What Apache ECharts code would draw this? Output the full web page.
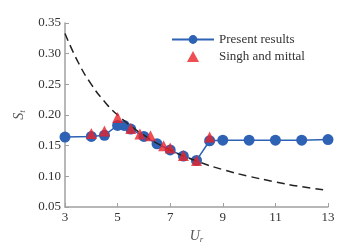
<!DOCTYPE html>
<html>
<head>
<meta charset="utf-8">
<script src="https://cdn.jsdelivr.net/npm/echarts@6/dist/echarts.min.js"></script>
<style>
  html, body { margin: 0; padding: 0; background: #fff; }
  #chart { width: 350px; height: 244px; }
</style>
</head>
<body>
<div id="chart"></div>
<script>
// Present results (blue circles)
const presentUr = [3, 4, 4.5, 5, 5.25, 5.5, 6, 6.5, 7, 7.5, 8, 8.5, 9, 10, 11, 12, 13];
const presentSt = [0.164, 0.165, 0.167, 0.183, 0.183, 0.177, 0.165, 0.153, 0.143, 0.133, 0.126, 0.158, 0.159, 0.159, 0.159, 0.159, 0.160];
// Singh and mittal (red triangles)
const singhUr = [4, 4.5, 5, 5.5, 5.85, 6.25, 6.75, 7, 7.5, 8, 8.5];
const singhSt = [0.170, 0.174, 0.196, 0.178, 0.169, 0.166, 0.150, 0.146, 0.134, 0.126, 0.164];
// dashed reference curve
const curveUr = [3, 3.5, 4, 4.5, 5, 6, 7, 8, 9, 10, 11, 12, 13];
const curveSt = [0.333, 0.286, 0.25, 0.222, 0.2, 0.167, 0.143, 0.125, 0.111, 0.1, 0.091, 0.083, 0.077];

const zip = (a, b) => a.map((v, i) => [v, b[i]]);
const font = 'Liberation Serif';
const axisGrey = '#a0a0a0';
const triPath = 'path://M0,10 L5.5,0 L11,10 Z';

const chart = echarts.init(document.getElementById('chart'));
chart.setOption({
  animation: false,
  textStyle: { fontFamily: font },
  grid: { left: 65, right: 22, top: 23, bottom: 37, outerBoundsMode: 'none' },
  legend: {
    orient: 'vertical',
    left: 171,
    top: 33,
    padding: 0,
    itemGap: 4,
    itemWidth: 42,
    itemHeight: 11,
    textStyle: { fontFamily: font, fontSize: 13, color: '#333' },
    data: [
      { name: 'Present results' },
      { name: 'Singh and mittal', icon: triPath }
    ]
  },
  xAxis: {
    type: 'value',
    min: 3, max: 13, interval: 2,
    name: '{i|U}{s|r}',
    nameLocation: 'middle',
    nameGap: 18,
    nameTextStyle: {
      rich: {
        i: { fontFamily: font, fontStyle: 'italic', fontSize: 14, color: '#555' },
        s: { fontFamily: font, fontStyle: 'italic', fontSize: 9, color: '#555', padding: [8, 0, 0, 0] }
      }
    },
    axisLine: { lineStyle: { color: axisGrey, width: 1.5 } },
    axisTick: { inside: true, length: 4, lineStyle: { color: axisGrey } },
    axisLabel: { fontFamily: font, fontSize: 13, color: '#333', margin: 4 },
    splitLine: { show: false }
  },
  yAxis: {
    type: 'value',
    min: 0.05, max: 0.35, interval: 0.05,
    name: '{i|S}{s|t}',
    nameLocation: 'middle',
    nameGap: 26,
    nameTextStyle: {
      rich: {
        i: { fontFamily: font, fontStyle: 'italic', fontSize: 14, color: '#555' },
        s: { fontFamily: font, fontStyle: 'italic', fontSize: 9, color: '#555', padding: [8, 0, 0, 0] }
      }
    },
    axisLine: { show: true, lineStyle: { color: axisGrey, width: 1.5 } },
    axisTick: { show: true, inside: true, length: 4, lineStyle: { color: axisGrey } },
    axisLabel: { fontFamily: font, fontSize: 13, color: '#333', margin: 4, formatter: v => v.toFixed(2) },
    splitLine: { show: false }
  },
  series: [
    {
      name: 'curve',
      type: 'line',
      smooth: true,
      symbol: 'none',
      data: zip(curveUr, curveSt),
      lineStyle: { color: '#222', width: 1.5, type: [8, 5] },
      z: 3
    },
    {
      name: 'Present results',
      type: 'line',
      data: zip(presentUr, presentSt),
      symbol: 'circle',
      symbolSize: 11,
      itemStyle: { color: '#2d62b5' },
      lineStyle: { color: '#2d62b5', width: 1.5 },
      z: 2
    },
    {
      name: 'Singh and mittal',
      type: 'scatter',
      data: zip(singhUr, singhSt),
      symbol: 'triangle',
      symbolSize: 11,
      itemStyle: { color: '#e8232a' },
      z: 4
    }
  ]
});
</script>
</body>
</html>
